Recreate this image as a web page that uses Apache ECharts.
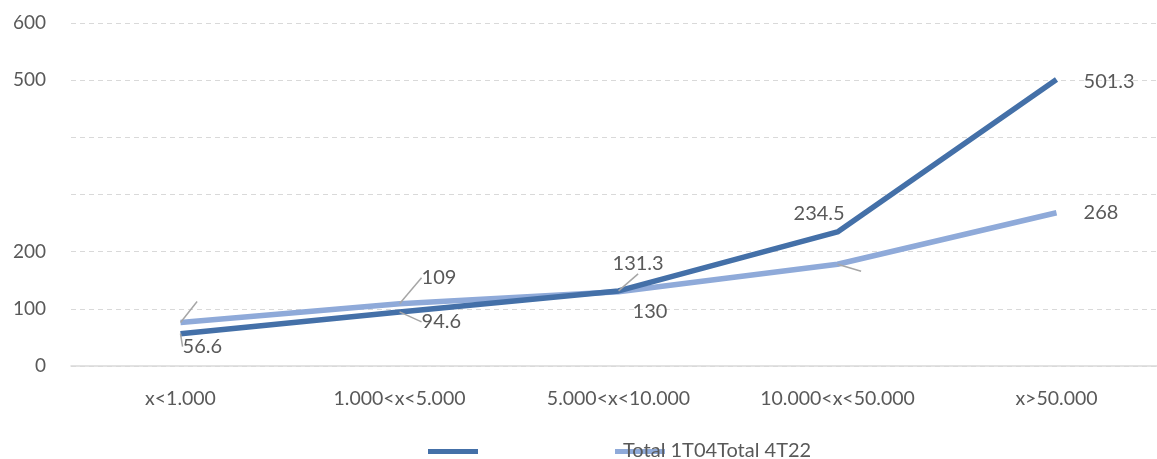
<!DOCTYPE html>
<html>
<head>
<meta charset="utf-8">
<script src="https://cdn.jsdelivr.net/npm/echarts@6/dist/echarts.min.js"></script>
<style>
html,body{margin:0;padding:0;background:#fff;}
#c{width:1157px;height:459px;}
</style>
</head>
<body>
<div id="c"></div>
<script>
var categories = ['x<1.000', '1.000<x<5.000', '5.000<x<10.000', '10.000<x<50.000', 'x>50.000'];
var seriesNames = ['Total 1T04', 'Total 4T22'];
var series1T04 = [56.6, 94.6, 131.3, 234.5, 501.3];
var series4T22 = [76, 109, 130, 178, 268];
var labelText4T22 = [' ', '109', '130', ' ', '268'];
var yTickLabels = ['0', '100', '200', '', '', '500', '600'];

// label layout only
var off1 = [[-3, 13], [17, 10], [-11, -27], [-49, -18], [22, 2]];
var off2 = [[9, -31], [17, -26], [9, 20], [16, 17], [22, 0]];
var guide1 = [true, true, true, false, false];
var guide2 = [true, true, false, true, false];

var FONT = 'Lato';
var TXT = '#595959';
var chart = echarts.init(document.getElementById('c'));

function mkData(vals, guides, texts) {
  return vals.map(function (v, i) {
    var item = { value: v, labelLine: { show: guides[i] } };
    if (texts) item.label = { formatter: texts[i] };
    return item;
  });
}

chart.setOption({
  animation: false,
  textStyle: { fontFamily: FONT },
  grid: { left: 71, width: 1095, top: 23, bottom: 93, outerBoundsMode: 'none', containLabel: false },
  xAxis: {
    type: 'category',
    data: categories,
    boundaryGap: true,
    axisLine: { show: true, lineStyle: { color: '#d9d9d9', width: 1.5 } },
    axisTick: { show: false },
    axisLabel: { color: TXT, fontSize: 19.5, fontFamily: FONT, margin: 23 },
    splitLine: { show: false }
  },
  yAxis: {
    type: 'value',
    min: 0, max: 600, interval: 100,
    axisLine: { show: false },
    axisTick: { show: false },
    axisLabel: {
      color: TXT, fontSize: 19, fontFamily: FONT, margin: 25,
      formatter: function (v) { return yTickLabels[Math.round(v / 100)]; }
    },
    splitLine: { lineStyle: { color: '#d9d9d9', type: [5, 4], width: 1.2 } }
  },
  legend: {
    left: 428, top: 449, padding: 0,
    icon: 'rect', itemWidth: 50, itemHeight: 5, itemGap: 137,
    formatter: function () { return ''; },
    data: seriesNames,
    selectedMode: false
  },
  graphic: [{
    type: 'text', left: 623, top: 441, z: 100,
    style: { text: seriesNames.join(''), fill: TXT, fontSize: 20, fontFamily: FONT }
  }],
  series: [
    {
      name: seriesNames[1], type: 'line', data: mkData(series4T22, guide2, labelText4T22),
      symbol: 'circle', symbolSize: 0.1, showSymbol: true,
      lineStyle: { color: '#8faad9', width: 5.5 }, itemStyle: { color: '#8faad9' },
      z: 2,
      label: { show: true, position: 'right', distance: 5, color: TXT, fontSize: 20, fontFamily: FONT },
      labelLine: { show: true, lineStyle: { color: '#a6a6a6', width: 1.5 } },
      labelLayout: function (p) { var o = off2[p.dataIndex]; return { dx: o[0], dy: o[1] }; }
    },
    {
      name: seriesNames[0], type: 'line', data: mkData(series1T04, guide1, null),
      symbol: 'circle', symbolSize: 0.1, showSymbol: true,
      lineStyle: { color: '#4470a8', width: 5.5 }, itemStyle: { color: '#4470a8' },
      z: 3,
      label: { show: true, position: 'right', distance: 5, color: TXT, fontSize: 20, fontFamily: FONT },
      labelLine: { show: true, lineStyle: { color: '#a6a6a6', width: 1.5 } },
      labelLayout: function (p) { var o = off1[p.dataIndex]; return { dx: o[0], dy: o[1] }; }
    }
  ]
});
</script>
</body>
</html>
